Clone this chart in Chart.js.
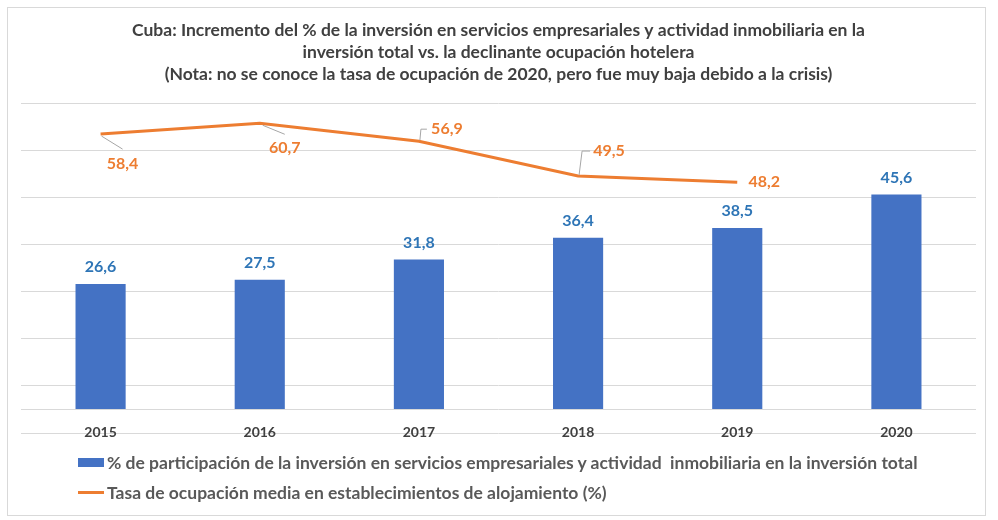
<!DOCTYPE html>
<html>
<head>
<meta charset="utf-8">
<script src="https://cdn.jsdelivr.net/npm/chart.js@4.4.0/dist/chart.umd.min.js"></script>
<style>
  html, body { margin: 0; padding: 0; background: #fff; }
  #wrap { position: relative; width: 998px; height: 520px; overflow: hidden; }
  #frame { position: absolute; left: 7px; top: 7px; width: 977px; height: 507px; border: 1px solid #d9d9d9; }
  #chart { position: absolute; left: 0; top: 0; }
  .legend { position: absolute; left: 78px; font-family: Lato, sans-serif; font-weight: bold;
            font-size: 17.5px; color: #595959; white-space: pre; display: flex; align-items: center; height: 20px; }
  .legend .sw { display: inline-block; width: 26px; margin-right: 3px; }
</style>
</head>
<body>
<div id="wrap">
  <div id="frame"></div>
  <canvas id="chart" width="998" height="520"></canvas>
  <div class="legend" id="leg1" style="top:452px"><span class="sw" style="height:9px;background:#4472C4"></span><span id="leg1txt"></span></div>
  <div class="legend" id="leg2" style="top:482px"><span class="sw" style="height:3px;background:#ED7D31"></span><span id="leg2txt"></span></div>
</div>
<script>
// values
const years = ["2015", "2016", "2017", "2018", "2019", "2020"];
const participacion = [26.6, 27.5, 31.8, 36.4, 38.5, 45.6];
const ocupacion = [58.4, 60.7, 56.9, 49.5, 48.2, null];
const gridTicks = [-5, 0, 5, 15, 25, 35, 45, 55, 65];

const titleLines = [
  "Cuba: Incremento del % de la inversión en servicios empresariales y actividad inmobiliaria en la",
  "inversión total vs. la declinante ocupación hotelera",
  "(Nota: no se conoce la tasa de ocupación de 2020, pero fue muy baja debido a la crisis)"
];
const barLabel = "% de participación de la inversión en servicios empresariales y actividad  inmobiliaria en la inversión total";
const lineLabel = "Tasa de ocupación media en establecimientos de alojamiento (%)";

// where the orange labels sit relative to their point, plus leader lines
const lineLabelOffsets = [[22, 30], [25, 25], [28, -12], [31, -25], [27, 0]];
const leaders = [
  [[1, 2], [22, 15]],
  [[3, 2], [25, 11]],
  [[1, -1], [2, -12], [8, -12]],
  [[1, -1], [4, -25], [12, -25]],
  []
];

document.getElementById("leg1txt").textContent = barLabel;
document.getElementById("leg2txt").textContent = lineLabel;

const fmt = v => v.toFixed(1).replace(".", ",");

const valueLabels = {
  id: "valueLabels",
  afterDatasetsDraw(chart) {
    const ctx = chart.ctx;
    ctx.save();
    ctx.font = "bold 16px Lato";
    ctx.textAlign = "center";
    ctx.textBaseline = "middle";

    chart.getDatasetMeta(1).data.forEach((el, i) => {
      ctx.fillStyle = "#2E75B6";
      ctx.fillText(fmt(participacion[i]), el.x, el.y - 17);
    });

    chart.getDatasetMeta(0).data.forEach((el, i) => {
      if (ocupacion[i] == null) return;
      const pts = leaders[i];
      if (pts.length) {
        ctx.strokeStyle = "#a6a6a6";
        ctx.lineWidth = 1;
        ctx.beginPath();
        ctx.moveTo(el.x + pts[0][0], el.y + pts[0][1]);
        pts.slice(1).forEach(p => ctx.lineTo(el.x + p[0], el.y + p[1]));
        ctx.stroke();
      }
      const [dx, dy] = lineLabelOffsets[i];
      ctx.fillStyle = "#ED7D31";
      ctx.fillText(fmt(ocupacion[i]), el.x + dx, el.y + dy);
    });
    ctx.restore();
  }
};

new Chart(document.getElementById("chart"), {
  data: {
    labels: years,
    datasets: [
      {
        type: "line",
        label: lineLabel,
        data: ocupacion,
        borderColor: "#ED7D31",
        backgroundColor: "#ED7D31",
        borderWidth: 3,
        pointRadius: 0,
        tension: 0,
        order: 0
      },
      {
        type: "bar",
        label: barLabel,
        data: participacion,
        backgroundColor: "#4472C4",
        barPercentage: 0.315,
        categoryPercentage: 1,
        order: 1
      }
    ]
  },
  options: {
    responsive: false,
    animation: false,
    layout: { padding: { left: 21, right: 22, top: 0, bottom: 57 } },
    plugins: {
      legend: { display: false },
      tooltip: { enabled: false },
      title: {
        display: true,
        text: titleLines,
        color: "#404040",
        font: { family: "Lato", weight: "bold", size: 17.5, lineHeight: 22 / 17.5 },
        padding: { top: 19, bottom: 18 }
      }
    },
    scales: {
      x: {
        grid: { display: false, drawTicks: false },
        border: { display: false },
        // mirrored so the year labels sit on the lowest gridline, as in the original
        ticks: { color: "#404040", font: { family: "Lato", weight: "bold", size: 14 }, mirror: true, padding: -8 },
        afterFit: s => { s.height = 30; }
      },
      y: {
        min: -5,
        max: 65,
        afterBuildTicks: s => { s.ticks = gridTicks.map(v => ({ value: v })); },
        afterFit: s => { s.width = 0; },
        ticks: { display: false },
        grid: { color: "#d9d9d9", lineWidth: 1, drawTicks: false },
        border: { display: false }
      }
    }
  },
  plugins: [valueLabels]
});
</script>
</body>
</html>
